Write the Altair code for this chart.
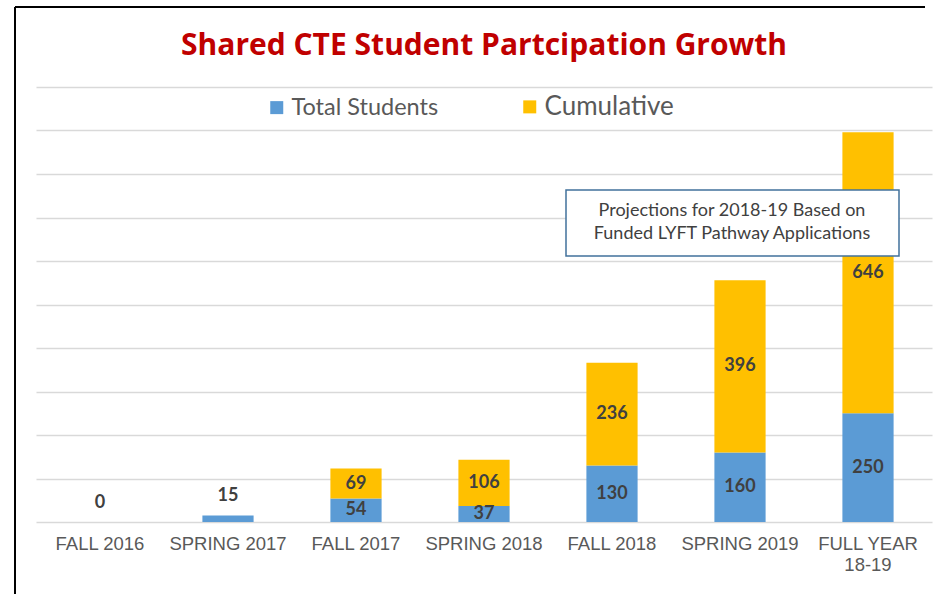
import altair as alt
import pandas as pd

categories = ["FALL 2016", "SPRING 2017", "FALL 2017", "SPRING 2018",
              "FALL 2018", "SPRING 2019", "FULL YEAR\n18-19"]
total_students = [0, 15, 54, 37, 130, 160, 250]
cumulative = [0, 0, 69, 106, 236, 396, 646]
series = ["Total Students", "Cumulative"]
colors = ["#5B9BD5", "#FFC000"]
grid_values = [0, 100, 200, 300, 400, 500, 600, 700, 800, 900, 1000]
title_text = "Shared CTE Student Partcipation Growth"
note_text = "Projections for 2018-19 Based on\nFunded LYFT Pathway Applications"

rows = []
for c, t, cu in zip(categories, total_students, cumulative):
    rows.append({"cat": c, "series": series[0], "start": 0, "end": t, "value": t})
    rows.append({"cat": c, "series": series[1], "start": t, "end": t + cu, "value": cu})
df = pd.DataFrame(rows)
df["mid"] = (df["start"] + df["end"]) / 2
big = df[(df["value"] >= 30)]
small = df[(df["series"] == series[0]) & (df["value"] < 30)]

W, H = 896, 435
xaxis = alt.Axis(labelAngle=0, ticks=False, domain=False, grid=False,
                 labelPadding=12, labelFont="Liberation Sans",
                 labelFontSize=18.5, labelColor="#595959",
                 labelLineHeight=21,
                 labelExpr="split(datum.label, '\\n')")
xscale = alt.Scale(paddingInner=0.6, paddingOuter=0.3)
yaxis = alt.Axis(labels=False, ticks=False, domain=False, grid=True,
                 values=grid_values, gridColor="#D9D9D9", gridWidth=1.5)
yscale = alt.Scale(domain=[0, 1000], nice=False)


def xe():
    return alt.X("cat:N", sort=categories, title=None, scale=xscale, axis=xaxis)


bars = alt.Chart(df).mark_bar().encode(
    x=xe(),
    y=alt.Y("start:Q", scale=yscale, title=None, axis=yaxis),
    y2="end:Q",
    color=alt.Color("series:N", sort=series,
                    scale=alt.Scale(domain=series, range=colors),
                    legend=alt.Legend(title=None, orient="none", legendX=229, legendY=8,
                                      direction="horizontal", symbolType="square",
                                      symbolSize=169, symbolStrokeWidth=0,
                                      labelFont="Lato",
                                      labelFontSize={"expr": "datum.label == 'Cumulative' ? 26 : 23.5"},
                                      labelColor="#595959", labelOffset=3,
                                      columnPadding=79)),
)

lab_big = alt.Chart(big).mark_text(font="Lato", fontWeight="bold", fontSize=18,
                                   color="#404040", baseline="middle").encode(
    x=xe(), y=alt.Y("mid:Q", scale=yscale, title=None, axis=yaxis), text="value:Q")
lab_small = alt.Chart(small).mark_text(font="Lato", fontWeight="bold", fontSize=18,
                                       color="#404040", baseline="middle", dy=-19).encode(
    x=xe(), y=alt.Y("end:Q", scale=yscale, title=None, axis=yaxis), text="value:Q")

note_df = pd.DataFrame({"t": [note_text]})
box = alt.Chart(note_df).mark_rect(fill="white", stroke="#41719C", strokeWidth=1.5).encode(
    x=alt.value(530), x2=alt.value(863), y=alt.value(103), y2=alt.value(169))
note = alt.Chart(note_df).mark_text(font="Lato", fontSize=18, color="#404040",
                                    lineBreak="\n", lineHeight=23, align="center",
                                    baseline="middle").encode(
    x=alt.value(696), y=alt.value(124), text="t:N")

border_top = alt.Chart(note_df).mark_rule(color="black", strokeWidth=2).encode(
    x=alt.value(-21), x2=alt.value(889), y=alt.value(-80))
border_left = alt.Chart(note_df).mark_rule(color="black", strokeWidth=2).encode(
    x=alt.value(-21), y=alt.value(-80), y2=alt.value(510))

chart = alt.layer(bars, lab_big, lab_small, box, note, border_top, border_left).properties(
    width=W, height=H,
    title=alt.Title(title_text, font="Open Sans", fontSize=30, fontWeight="bold",
                    color="#C00000", anchor="middle", offset=-55),
    autosize=alt.AutoSizeParams(type="none"),
    padding={"left": 36, "top": 87, "right": 2, "bottom": 72},
    background="white",
).configure_view(stroke=None)

chart.save("out.html", embed_options={"renderer": "svg", "actions": False})
